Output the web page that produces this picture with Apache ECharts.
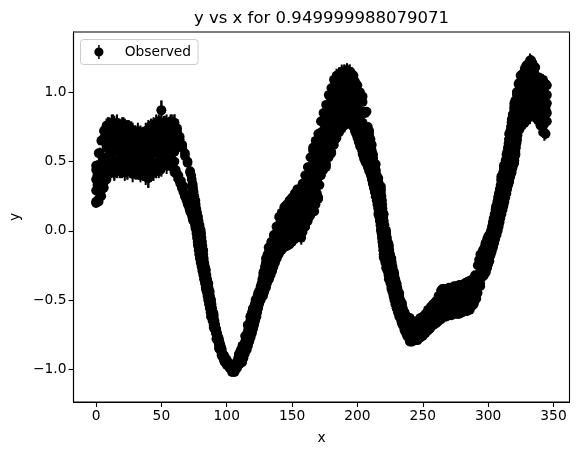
<!DOCTYPE html>
<html><head><meta charset="utf-8">
<style>html,body{margin:0;padding:0;background:#fff}#c{width:578px;height:455px}</style>
<script src="https://cdn.jsdelivr.net/npm/echarts@6/dist/echarts.min.js"></script>
</head><body><div id="c"></div>
<script>
const titleText = 'y vs x for 0.949999988079071';
const seriesName = 'Observed';
const xTicks = [0,50,100,150,200,250,300,350];
const yTicks = [-1,-0.5,0,0.5,1];
// one observation per x = 0, 1, 2, ...
const observedY = [
.21,.47,.23,.56,.29,.66,.35,.73,.42,.76,
.48,.74,.57,.78,.43,.68,.77,.51,.71,.44,
.60,.77,.47,.68,.43,.75,.54,.73,.45,.64,
.71,.43,.57,.70,.50,.44,.69,.60,.41,.72,
.38,.55,.70,.47,.63,.76,.44,.67,.78,.52,
.87,.47,.60,.77,.49,.73,.57,.79,.50,.68,
.78,.44,.72,.40,.66,.36,.60,.32,.54,.26,
.49,.20,.42,.14,.30,.10,.20,.04,.06,-.08,
-.02,-.17,-.20,-.27,-.34,-.38,-.46,-.44,-.56,-.58,
-.66,-.68,-.74,-.76,-.82,-.82,-.88,-.89,-.93,-.92,
-.96,-.95,-.98,-.98,-1.01,-1.01,-1.01,-1.0,-.98,-.96,
-.92,-.93,-.87,-.84,-.81,-.76,-.74,-.70,-.68,-.63,
-.62,-.58,-.56,-.52,-.50,-.46,-.45,-.41,-.38,-.33,
-.36,-.22,-.28,-.14,-.23,-.09,-.19,-.04,-.15,.01,
-.14,.09,-.05,.13,-.11,.18,.02,-.09,.14,.22,
-.07,.24,.06,.16,-.04,.30,.09,-.05,.33,.17,
.03,.39,.21,.10,.46,.30,.58,.14,.44,.62,
.24,.68,.40,.79,.52,.66,.46,.86,.60,.97,
.56,.78,1.01,.66,1.09,.88,.72,1.12,.95,.78,
1.15,.85,1.03,.80,1.15,.92,.76,1.12,.86,1.06,
.70,.94,.80,.61,.97,.72,.54,.86,.47,.72,
.43,.62,.52,.31,.48,.22,.38,.10,.30,-.03,
.12,-.19,-.02,-.27,-.12,-.33,-.22,-.44,-.32,-.50,
-.40,-.58,-.47,-.62,-.52,-.68,-.59,-.72,-.65,-.75,
-.63,-.80,-.68,-.78,-.70,-.66,-.79,-.70,-.77,-.64,
-.74,-.62,-.72,-.66,-.60,-.71,-.57,-.68,-.53,-.64,
-.51,-.66,-.58,-.47,-.63,-.42,-.55,-.62,-.45,-.52,
-.60,-.42,-.50,-.58,-.41,-.54,-.40,-.60,-.47,-.41,
-.58,-.39,-.50,-.56,-.37,-.44,-.57,-.38,-.48,-.53,
-.33,-.49,-.40,-.21,-.40,-.27,-.15,-.32,-.10,-.26,
-.05,-.22,-.02,-.13,.06,-.05,.14,.03,.22,.10,
.37,.16,.43,.26,.50,.35,.66,.40,.78,.47,
.90,.55,.98,.73,1.03,.82,1.12,.93,.78,1.19,
.87,1.05,.82,1.23,.95,.83,1.18,1.03,.80,1.10,
.77,.96,1.09,.71,.90,1.05];
const observedErr = [
.03,.04,.03,.04,.03,.05,.04,.05,.05,.06,
.05,.06,.06,.06,.06,.05,.06,.06,.05,.06,
.06,.05,.06,.06,.06,.05,.05,.06,.06,.05,
.05,.06,.06,.05,.05,.06,.05,.06,.06,.05,
.07,.05,.05,.06,.06,.05,.06,.05,.05,.05,
.07,.06,.05,.06,.06,.05,.05,.05,.05,.05,
.06,.05,.05,.05,.05,.04,.04,.04,.04,.04,
.03,.03,.03,.03,.03,.03,.03,.03,.03,.03,
.02,.02,.02,.02,.02,.02,.02,.02,.02,.02,
.02,.02,.02,.02,.02,.01,.01,.01,.01,.01,
.01,.01,.01,.01,.01,.01,.01,.01,.01,.01,
.01,.01,.01,.01,.01,.01,.01,.01,.01,.01,
.02,.02,.02,.02,.02,.02,.02,.02,.02,.02,
.02,.02,.02,.02,.02,.02,.02,.02,.02,.02,
.02,.02,.02,.02,.02,.02,.02,.02,.02,.02,
.03,.03,.03,.03,.03,.03,.03,.05,.03,.03,
.03,.03,.03,.03,.03,.03,.03,.03,.03,.03,
.03,.03,.04,.03,.04,.04,.03,.04,.04,.04,
.05,.05,.04,.05,.05,.05,.05,.05,.05,.05,
.05,.05,.05,.05,.05,.05,.05,.05,.05,.05,
.04,.04,.04,.04,.03,.03,.03,.03,.03,.03,
.03,.03,.03,.03,.03,.03,.03,.03,.03,.03,
.02,.02,.02,.02,.02,.02,.02,.02,.02,.02,
.02,.02,.02,.02,.02,.02,.02,.02,.02,.02,
.02,.02,.02,.02,.02,.02,.02,.02,.02,.02,
.02,.02,.02,.02,.02,.02,.02,.02,.02,.02,
.02,.02,.02,.02,.02,.02,.02,.02,.02,.02,
.02,.02,.02,.02,.02,.02,.02,.02,.02,.02,
.02,.02,.02,.02,.02,.02,.02,.02,.02,.02,
.02,.02,.02,.02,.02,.02,.02,.02,.02,.02,
.02,.02,.02,.02,.02,.02,.02,.02,.02,.02,
.02,.02,.02,.02,.02,.02,.02,.02,.02,.02,
.04,.03,.04,.03,.04,.04,.04,.04,.04,.04,
.05,.04,.05,.04,.04,.04,.04,.04,.05,.04,
.04,.04,.04,.06,.04,.04];
const lowestY = [
.20,.21,.25,.31,.37,.42,.44,.42,.44,.43,
.44,.42,.43,.44,.41,.42,.43,.40,.41,.39,
.38,.41,.42,.44,.43,.46,.47,.47,.49,.46,
.42,.41,.36,.31,.25,.20,.14,.08,.02,-.10,
-.19,-.30,-.42,-.50,-.62,-.70,-.78,-.85,-.90,-.94,
-.97,-.99,-1.02,-1.02,-.99,-.96,-.92,-.86,-.81,-.74,
-.68,-.62,-.56,-.50,-.44,-.38,-.32,-.26,-.22,-.18,
-.16,-.14,-.12,-.11,-.10,-.08,-.06,-.03,-.04,-.01,
.03,.07,.11,.15,.19,.23,.40,.44,.48,.53,
.57,.62,.67,.71,.74,.76,.79,.80,.76,.72,
.68,.63,.56,.50,.46,.42,.34,.25,.12,.0,
-.19,-.27,-.35,-.42,-.48,-.56,-.62,-.67,-.72,-.76,
-.80,-.80,-.79,-.78,-.77,-.76,-.74,-.72,-.70,-.68,
-.67,-.65,-.64,-.62,-.62,-.61,-.61,-.60,-.60,-.60,
-.59,-.58,-.58,-.56,-.54,-.50,-.45,-.38,-.33,-.28,
-.24,-.17,-.09,-.01,.05,.12,.20,.27,.35,.42,
.49,.65,.73,.76,.79,.82,.83,.83,.82,.80,
.76,.71,.70];
const highestY = [
.47,.56,.65,.72,.76,.77,.78,.77,.78,.76,
.76,.75,.74,.74,.72,.71,.72,.71,.70,.72,
.73,.76,.76,.78,.79,.87,.78,.78,.77,.79,
.78,.74,.68,.62,.56,.50,.43,.33,.22,.10,
.0,-.14,-.28,-.38,-.50,-.60,-.71,-.78,-.85,-.90,
-.93,-.96,-1.0,-.99,-.95,-.88,-.83,-.76,-.68,-.62,
-.56,-.50,-.45,-.40,-.30,-.20,-.12,-.08,-.03,.03,
.10,.13,.17,.19,.22,.24,.27,.30,.30,.34,
.40,.46,.53,.60,.65,.70,.79,.85,.91,.98,
1.03,1.09,1.12,1.13,1.15,1.15,1.16,1.15,1.13,1.08,
1.05,1.0,.93,.85,.75,.66,.55,.44,.36,.32,
.12,.0,-.10,-.20,-.30,-.38,-.45,-.53,-.59,-.63,
-.63,-.65,-.66,-.65,-.63,-.62,-.60,-.57,-.55,-.53,
-.51,-.47,-.43,-.42,-.42,-.41,-.41,-.40,-.40,-.39,
-.39,-.38,-.37,-.36,-.35,-.32,-.25,-.17,-.14,-.09,
-.04,-.01,.07,.17,.25,.39,.47,.55,.70,.80,
.92,1.0,1.07,1.13,1.17,1.20,1.23,1.21,1.18,1.11,
1.10,1.08,1.06];
// observations inside the thick parts of the band: [x, y, y, ...]
const fillRows = [
[6,.50],[8,.45,.53,.60,.68],[10,.64],[12,.51,.58,.64,.71],[14,.48],[16,.50,.57,.63,.70],[18,.67],
[20,.51,.57,.64,.70],[22,.62],[24,.50,.56,.62,.68],[26,.68],[28,.48,.54,.60,.66],[30,.64],
[32,.49,.55,.61,.67],[34,.60],[36,.47,.53,.59,.65],[38,.53],[40,.45,.52,.60,.67],[42,.58],
[44,.49,.56,.62,.69],[46,.64],[48,.50,.57,.65,.72],[50,.71],[52,.53,.59,.66,.72],[54,.62],
[56,.54,.60,.65,.71],[58,.68],[60,.50,.57,.64,.71],[62,.60],
[140,-.07,.01],[142,-.05,.04],[144,-.02,.07],[146,-.01,.09],[148,.01,.11],[150,.03,.13],
[152,.05,.16],[154,.08,.19],[156,.07,.19],[158,.11,.22],[160,.15,.28],[162,.20,.33],
[164,.25,.39],[166,.30,.45],[168,.34,.50],[170,.39,.54],
[172,.48,.56,.63,.71],[174,.62],[176,.57,.65,.74,.82],[178,.66],[180,.66,.75,.85,.94],[182,.80],
[184,.76,.85,.94,1.03],[186,.84],[188,.82,.90,.99,1.07],[190,.90],[192,.86,.94,1.01,1.09],[194,.92],
[196,.83,.91,.98,1.06],[198,.90],[200,.75,.83,.90,.98],[202,.82],[204,.63,.71,.78,.86],[206,.68],
[208,.52,.58,.63,.69],
[242,-.73],[246,-.72],[250,-.69],[254,-.65],
[260,-.62,-.56],[262,-.55],[264,-.57,-.50],[266,-.50],[268,-.55,-.49],[270,-.48],[272,-.54,-.48],
[274,-.50],[276,-.54,-.47],[278,-.47],[280,-.52,-.46],[282,-.50],[284,-.51,-.44],[286,-.54],
[288,-.48,-.41],[290,-.50],
[322,.72,.79,.86,.93],[324,.90],[326,.83,.91,.98,1.06],[328,1.0],[330,.90,.97,1.05,1.12],[332,.90],
[334,.91,.98,1.06,1.13],[336,1.0],[338,.86,.92,.99,1.05],[340,1.0],[342,.78,.86,.93,1.01],[344,.88],
[345,.79,.85,.92,.98],
[0,.29,.37,.44],[1,.33,.40],[2,.30,.45],[3,.38,.47],[5,.42,.52],
[141,-.10,-.02,.06],[143,-.08,0,.08],[145,-.06,.03,.11],[147,-.05,.04,.13],[149,-.02,.07,.16],
[151,-.03,.08,.18],[153,0,.10,.21],[155,.02,.12,.24],[157,.03,.13,.25],[159,.05,.17,.28],
[161,.09,.21,.33],[163,.13,.27,.40],[165,.18,.33,.47],[167,.22,.38,.53],[169,.27,.43,.58],[171,.33,.48,.62],
[173,.46,.58,.70],[175,.50,.63,.78],[177,.55,.70,.84],[179,.60,.78,.92],[181,.65,.82,.98],[183,.70,.88,1.02],
[185,.74,.90,1.06],[187,.78,.95,1.08],[189,.80,.96,1.10],[191,.83,.97,1.10],[193,.85,.98,1.10],[195,.82,.95,1.08],
[197,.79,.93,1.05],[199,.74,.88,1.02],[201,.70,.84,.96],
[323,.76,.90,1.0],[325,.80,.95,1.08],[327,.84,1.0,1.12],[329,.88,1.02,1.14],[331,.87,1.03,1.15],[333,.88,1.04,1.16],
[335,.88,1.02,1.14],[337,.86,.98,1.08],[339,.84,.95,1.06],[341,.80,.92,1.04],[343,.77,.90,1.0]
];
// steep flanks, read across the band at each y: y, then left and right x
const steepY = [
.40,.37,.34,.31,.28,.25,.22,.19,.16,.13,.10,.07,.04,.01,-.02,-.05,-.08,-.11,-.14,-.17,-.20,-.23,-.26,-.29,-.32,-.35,-.38,-.41,-.44,-.47,-.50,-.53,-.56,-.59,-.62,-.65,-.68,-.71,-.74,-.77,-.80,-.83,-.86,-.89,-.92,-.95,
-.95,-.92,-.89,-.86,-.83,-.80,-.77,-.74,-.71,-.68,-.65,-.62,-.59,-.56,-.53,-.50,-.47,-.44,-.41,-.38,-.35,-.32,-.29,-.26,-.23,-.20,-.17,-.14,-.11,-.08,-.05,-.02,
.70,.67,.64,.61,.58,.55,.52,.49,.46,.43,.40,.37,.34,.31,.28,.25,.22,.19,.16,.13,.10,.07,.04,.01,-.02,-.05,-.08,-.11,-.14,-.17,-.20,-.23,-.26,-.29,-.32,-.35,-.38,-.41,-.44,-.47,-.50,-.53,-.56,-.59,-.62,-.65,-.68,-.71,-.74,-.77,
-.30,-.27,-.24,-.21,-.18,-.15,-.12,-.09,-.06,-.03,0,.03,.06,.09,.12,.15,.18,.21,.24,.27,.30,.33,.36,.39,.42,.45,.48,.51,.54,.57,.60,.63,.66,.69,.72,.75,.78,.81,.84,.88,.94,1.0,1.06,1.12];
const steepLeftX = [
62.2,63.2,64.4,65.6,66.8,68,69.2,70.2,71.4,72.5,73.6,74.7,75.8,76.5,76.8,77.2,77.7,78.1,78.5,78.9,79.4,80,80.7,81.3,82,82.6,83.3,83.9,84.6,85.2,85.8,86.4,87,87.6,88.2,89.1,89.9,90.8,91.7,92.5,93.4,94.2,95.1,96.1,97.3,98.6,
107.2,108.7,109.2,110.7,112.2,114,114.8,115.6,116.4,117.2,118,118.2,119.2,120.3,121.4,122.5,123.5,124.6,125.8,126.6,127.2,127.9,128.6,129.2,129.9,130.6,131.2,132.5,133.8,135.1,136.4,137.8,
199,200,201,202,203.5,204,205,206.5,208,209,210.2,211,211.7,212.5,213.2,214,214.7,215.2,215.8,216.2,216.7,217.1,217.6,218,218.4,218.7,219,219.4,219.7,220,220.4,221.3,222.2,223,223.7,224.4,225.2,226,226.7,227.5,228.2,229,230,231,232.2,233.4,234.6,236,237.2,239,
293.7,294.2,294.6,295.1,295.7,296.6,297.2,298.1,299.2,300.8,302.2,302.9,303.6,304.2,304.9,305.6,306.2,307,307.6,308.2,308.9,309.5,310.1,310.8,311.4,312.1,312.8,313.4,314.2,314.6,315.1,315.6,316.1,316.5,317,317.4,317.9,318.4,318.8,319.8,320.7,322.1,323.2,324.8];
const steepRightX = [
72.8,73.2,73.8,74.2,74.7,75.2,75.7,76.2,76.7,77.3,77.8,78.5,79.2,79.9,80.4,80.7,81.1,81.4,81.8,82.1,82.4,82.8,83.4,83.9,84.5,85,85.6,86.1,86.7,87.2,87.8,88.4,88.9,89.5,90.1,90.7,91.2,91.8,92.7,93.6,94.4,95.3,96.2,97,98.8,100.8,
111.8,112.8,113.8,115.3,116.3,117.3,118.3,119.3,120.1,121,121.8,122.8,123.3,123.8,124.8,125.8,127.8,128.8,130.1,130.8,132.4,133.6,134.8,135.8,137,138.3,139.8,141,143,145,147,149,
209,209.5,210,210.5,211,211.5,212,212.8,213.3,214,214.8,215.6,216.3,217.2,218,218.4,218.8,219,219.2,219.5,219.8,220.2,220.7,221.3,222,222.6,223.2,223.8,224.4,225,225.7,226.3,226.9,227.6,228.3,229,229.8,230.5,231.3,232,232.8,233.8,234.8,236,237.8,239,240,241,242,243,
298.3,299.2,300,300.8,301.7,302.8,303.8,304.6,305.5,306.5,307.4,308.1,308.8,309.4,310.2,311,311.8,312.5,313.2,313.8,314.6,315.4,316.2,317,317.8,318.6,319.5,320.1,320.5,320.9,321.3,321.7,322.1,322.5,322.8,323,323.5,324,325,326,328,329,330,331];

const errAt = x => observedErr[Math.min(observedErr.length-1,Math.round(x))];
const points = observedY.map((y,i)=>[i,y,observedErr[i]])
  .concat(lowestY.map((y,i)=>[i*2,y,observedErr[i*2]]))
  .concat(highestY.map((y,i)=>[i*2,y,observedErr[i*2]]))
  .concat(fillRows.flatMap(r=>r.slice(1).map(y=>[r[0],y,errAt(r[0])])))
  .concat(steepY.map((y,i)=>[steepLeftX[i],y,errAt(steepLeftX[i])]))
  .concat(steepY.map((y,i)=>[steepRightX[i],y,errAt(steepRightX[i])]));

const fontFamily = '"DejaVu Sans"';
const chart = echarts.init(document.getElementById('c'),null,{renderer:'canvas'});
const fmtY = v => { const s = Math.abs(v).toFixed(1); return v<0 ? '\u2212'+s : s; };
chart.setOption({
  animation:false,
  backgroundColor:'#fff',
  title:{text:titleText,left:321.5,top:10,textAlign:'center',
    textStyle:{fontFamily,fontSize:16.55,fontWeight:'normal',color:'#000'},padding:0},
  grid:{left:73.5,right:8.5,top:32,bottom:53,show:true,borderColor:'#000',borderWidth:1.1,backgroundColor:'#fff'},
  legend:{left:80.5,top:39.5,orient:'vertical',padding:[5.5,7,5.5,13.8],
    backgroundColor:'#fff',borderColor:'#ccc',borderWidth:1,borderRadius:3,
    itemWidth:10,itemHeight:14,
    data:[{name:seriesName,icon:'path://M4.25 0H5.75V14H4.25Z M9.6 7A4.6 4.6 0 1 1 .4 7A4.6 4.6 0 1 1 9.6 7Z'}],
    textStyle:{fontFamily,fontSize:13.8,color:'#000',padding:[0,0,0,15.8]}},
  xAxis:{type:'value',min:-17.25,max:362.25,name:'x',nameLocation:'middle',nameGap:29,
    nameTextStyle:{fontFamily,fontSize:13.8,color:'#000'},
    splitLine:{show:false},
    axisLine:{show:true,onZero:false,lineStyle:{color:'#000',width:1.1}},
    axisTick:{show:true,length:4.9,customValues:xTicks,lineStyle:{color:'#000',width:1.1}},
    axisLabel:{show:true,customValues:xTicks,margin:7,color:'#000',fontFamily,fontSize:13.8}},
  yAxis:{type:'value',min:-1.236,max:1.435,name:'y',nameLocation:'middle',nameGap:40,
    nameTextStyle:{fontFamily,fontSize:13.8,color:'#000'},
    splitLine:{show:false},
    axisLine:{show:true,onZero:false,lineStyle:{color:'#000',width:1.1}},
    axisTick:{show:true,length:4.9,customValues:yTicks,lineStyle:{color:'#000',width:1.1}},
    axisLabel:{show:true,customValues:yTicks,margin:7,padding:[4,0,0,0],color:'#000',fontFamily,fontSize:13.8,formatter:fmtY}},
  series:[
    {type:'custom',name:'bars',silent:true,clip:true,data:points,
      encode:{x:0,y:1},
      renderItem:(p,api)=>{
        const x=api.value(0),y=api.value(1),e=api.value(2);
        const a=api.coord([x,y-e]),b=api.coord([x,y+e]);
        return {type:'line',shape:{x1:a[0],y1:a[1],x2:b[0],y2:b[1]},style:{stroke:'#000',lineWidth:2}};
      }},
    {type:'scatter',name:seriesName,data:points.map(p=>[p[0],p[1]]),symbol:'circle',symbolSize:9.7,
      itemStyle:{color:'#000',opacity:1},emphasis:{disabled:true},large:false}
  ]
});
</script></body></html>
